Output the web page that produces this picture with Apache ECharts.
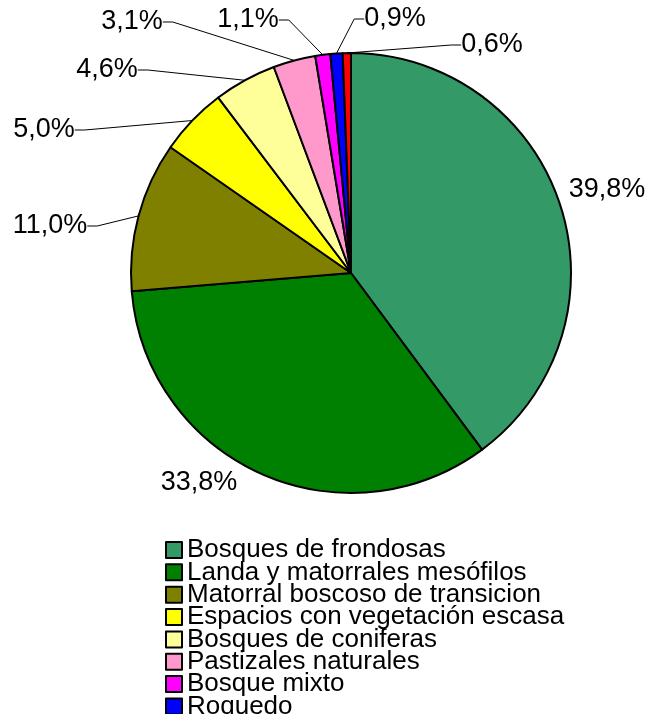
<!DOCTYPE html>
<html>
<head>
<meta charset="utf-8">
<script src="https://cdn.jsdelivr.net/npm/echarts@6/dist/echarts.min.js"></script>
<style>
  html, body { margin: 0; padding: 0; background: #fff; overflow: hidden; }
  #chart { width: 650px; height: 800px; }
</style>
</head>
<body>
<div id="chart"></div>
<script>
// categories and shares (%)
const categories = [
  'Bosques de frondosas',
  'Landa y matorrales mesófilos',
  'Matorral boscoso de transicion',
  'Espacios con vegetación escasa',
  'Bosques de coniferas',
  'Pastizales naturales',
  'Bosque mixto',
  'Roquedo',
  'Otros'
];
const shares = [39.8, 33.8, 11.0, 5.0, 4.6, 3.1, 1.1, 0.9, 0.6];
const colors = ['#339966', '#008000', '#808000', '#FFFF00', '#FFFF99', '#FF99CC', '#FF00FF', '#0000FF', '#FF0000'];

// where each percentage label sits (label centre)
const labelPos = [
  [607, 190], [199, 483], [50, 226], [44, 130], [107, 70],
  [132, 22], [248, 20], [395, 19], [492, 45]
];
const noLine = [0, 1];

const chart = echarts.init(document.getElementById('chart'));

const data = categories.map((name, i) => ({
  name: name,
  value: shares[i],
  itemStyle: { color: colors[i] },
  labelLine: { show: noLine.indexOf(i) < 0 }
}));

chart.setOption({
  animation: false,
  legend: {
    orient: 'vertical',
    left: 165,
    top: 537,
    padding: 0,
    itemGap: -3.65,
    itemWidth: 16,
    itemHeight: 16,
    icon: 'rect',
    textStyle: {
      fontFamily: 'Liberation Sans, Arial',
      fontSize: 26,
      color: '#000'
    },
    data: categories
  },
  series: [
    {
      type: 'pie',
      center: [351, 273],
      radius: 220,
      startAngle: 90,
      clockwise: true,
      avoidLabelOverlap: false,
      itemStyle: { borderColor: '#000', borderWidth: 2 },
      label: {
        show: true,
        formatter: p => p.value.toFixed(1).replace('.', ',') + '%',
        fontFamily: 'Liberation Sans, Arial',
        fontSize: 27,
        color: '#000'
      },
      labelLine: {
        show: true,
        length: 10,
        length2: 10,
        lineStyle: { color: '#000', width: 1 }
      },
      labelLayout: p => ({
        x: labelPos[p.dataIndex][0],
        y: labelPos[p.dataIndex][1],
        align: 'center',
        verticalAlign: 'middle'
      }),
      emphasis: { disabled: true },
      data: data
    }
  ]
});
</script>
</body>
</html>
